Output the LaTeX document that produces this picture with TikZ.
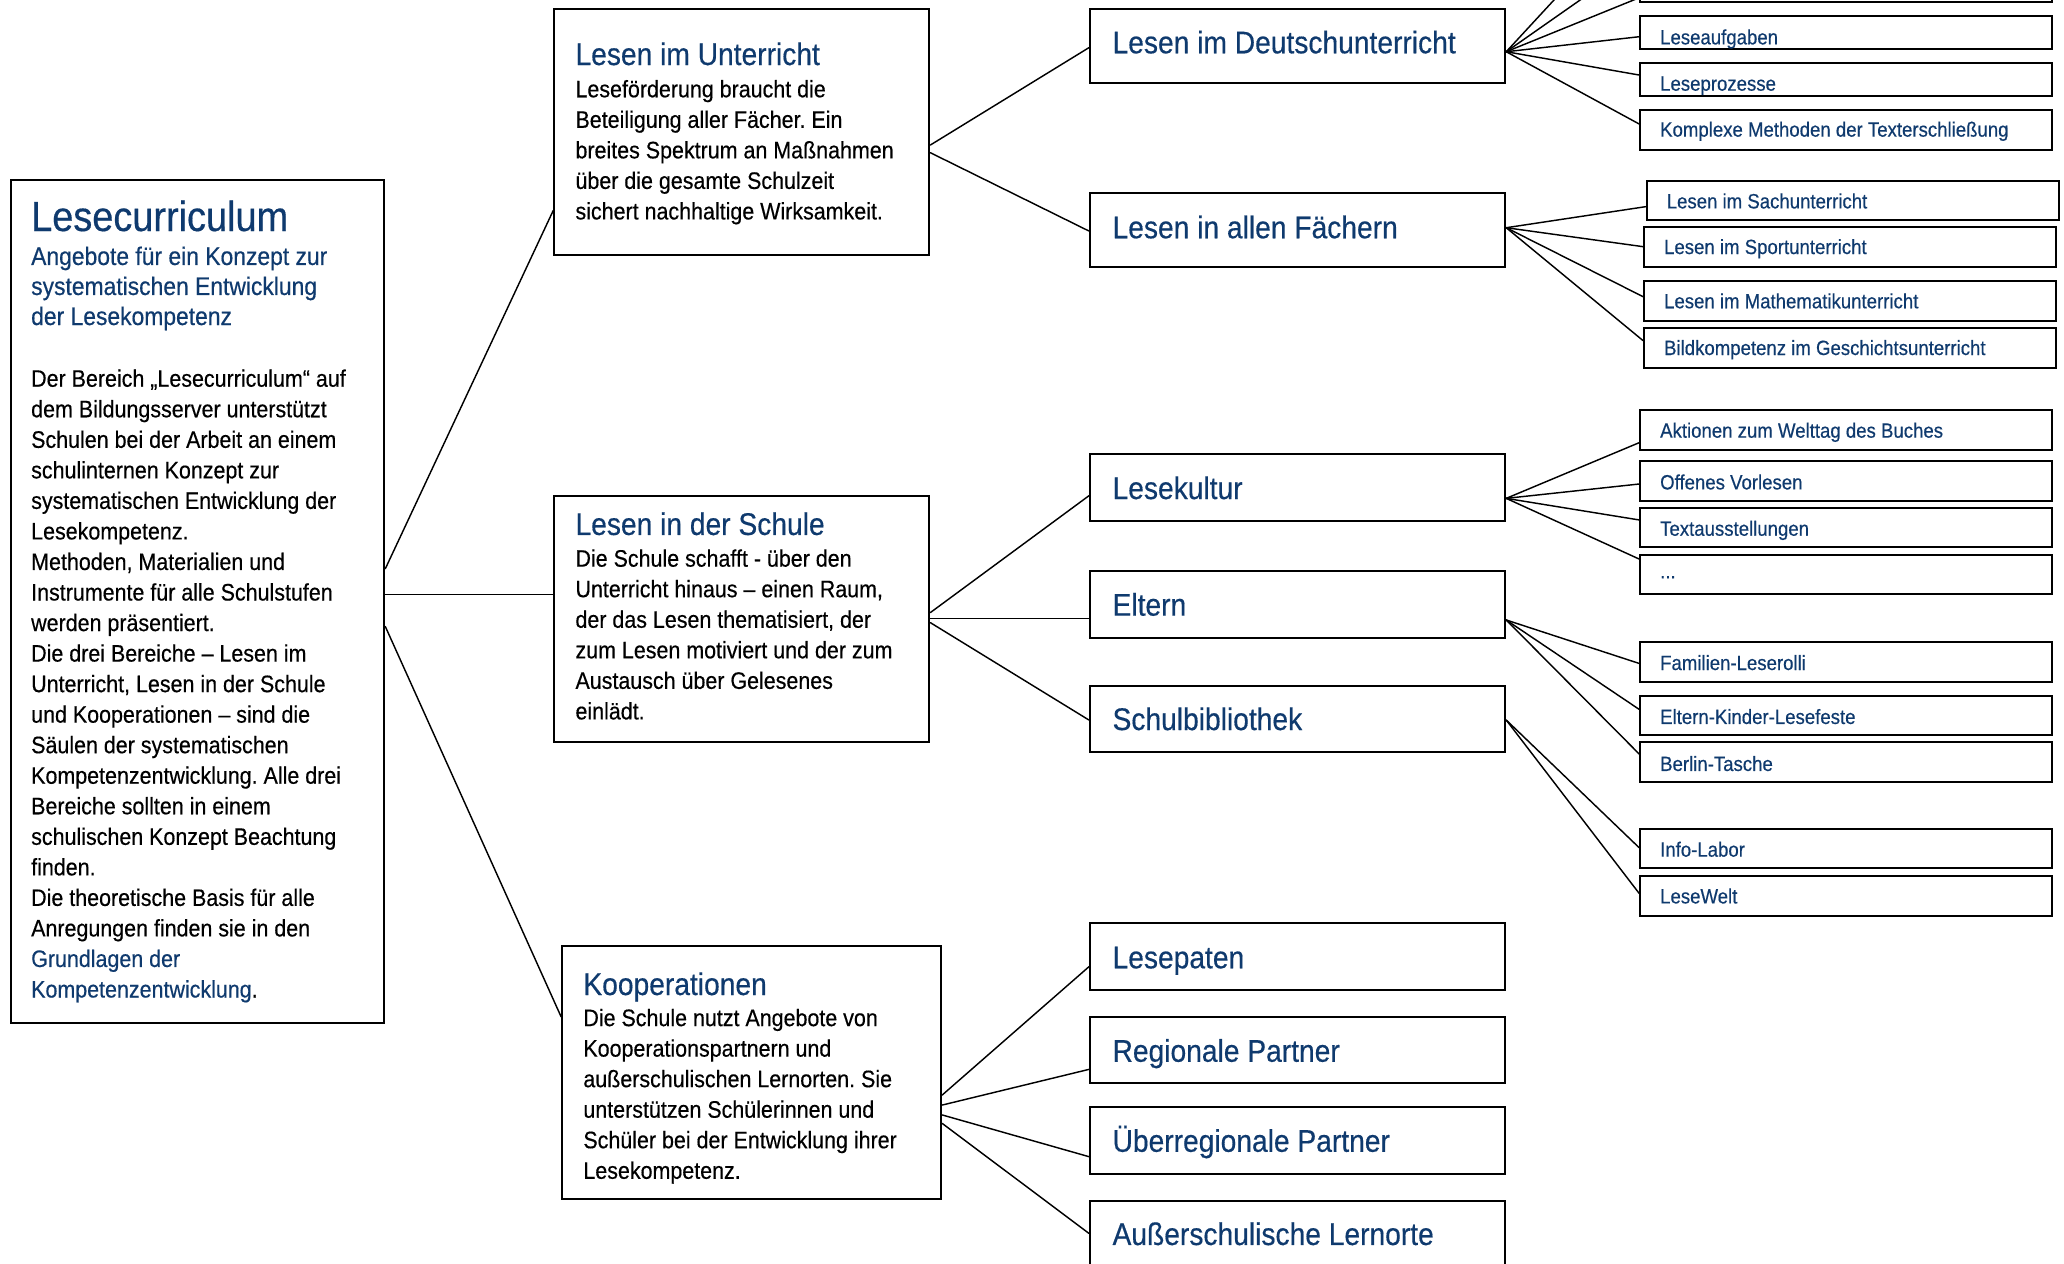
\documentclass[tikz,border=0pt]{standalone}
\usepackage{fontspec}
\setmainfont{Liberation Sans}[FakeStretch=0.9,FakeBold=0.4]
\frenchspacing
\definecolor{lblue}{HTML}{0F3A6E}
\tikzset{
  bxs/.style={draw=black, line width=1.5pt, inner sep=0pt},
  con/.style={line width=1.1pt, line cap=round},
  txs/.style={anchor=base west, inner sep=0pt},
  bigt/.style={txs, text=lblue, font=\fontsize{23.8}{28}\selectfont},
  smt/.style={txs, text=lblue, font=\fontsize{15.7}{18}\selectfont},
}
\newcommand\mkbox[5]{\node[bxs,minimum width={(#4-#2)*1pt},minimum height={(#5-#3)*1pt}] (#1) at ({(#2+#4)/2},{(#3+#5)/2}) {};}
\newcommand\bodytext[2]{\parbox[t]{#1}{\fontsize{18.1}{23.2}\selectfont\raggedright #2}}
\begin{document}
\begin{tikzpicture}[x=1pt,y=-1pt]
\useasboundingbox (0,0) rectangle (1568,960);
\fill[white] (0,0) rectangle (1568,960);
\clip (0,0) rectangle (1568,960);

% ---------- boxes ----------
\mkbox{L0}{8}{137}{292}{777}
\mkbox{U}{421}{7}{706}{193.5}
\mkbox{S}{421}{376.6}{706}{563.5}
\mkbox{K}{427}{718.7}{715}{911}
\mkbox{D1}{828}{6.8}{1143.5}{62.8}
\mkbox{D2}{828}{146.4}{1143.5}{202.6}
\mkbox{D3}{828}{344.9}{1143.5}{395.8}
\mkbox{D4}{828}{433.8}{1143.5}{485}
\mkbox{D5}{828}{520.9}{1143.5}{571.6}
\mkbox{D6}{828}{701}{1143.5}{752.1}
\mkbox{D7}{828}{772.4}{1143.5}{823}
\mkbox{D8}{828}{840.7}{1143.5}{892.2}
\mkbox{D9}{828}{912.4}{1143.5}{990}
\mkbox{S0}{1246}{-40}{1559}{1.3}
\mkbox{S1}{1246}{12.2}{1559}{37}
\mkbox{S2}{1246}{47.6}{1559}{72.7}
\mkbox{S3}{1246}{83.6}{1559}{114}
\mkbox{S4}{1251}{137.3}{1564}{167.1}
\mkbox{S5}{1249}{172.7}{1562}{202.6}
\mkbox{S6}{1249}{213.5}{1562}{243.6}
\mkbox{S7}{1249}{249.4}{1562}{279.3}
\mkbox{S8}{1246}{311.5}{1559}{341.9}
\mkbox{S9}{1246}{350.2}{1559}{380.4}
\mkbox{S10}{1246}{386.2}{1559}{415.8}
\mkbox{S11}{1246}{421.6}{1559}{451.5}
\mkbox{S12}{1246}{487.5}{1559}{517.9}
\mkbox{S13}{1246}{528.5}{1559}{558.4}
\mkbox{S14}{1246}{564}{1559}{594.3}
\mkbox{S15}{1246}{629.8}{1559}{659.7}
\mkbox{S16}{1246}{665.5}{1559}{695.6}

% ---------- texts: left box ----------
\node[txs, text=lblue, font=\fontsize{32}{36}\selectfont] (tL0) at (23.5,175.5) {Lesecurriculum};
\node[txs, text=lblue] (sL0) at (23.5,201.3) {\parbox[t]{265pt}{\fontsize{19.3}{22.8}\selectfont\raggedright Angebote für ein Konzept zur\\systematischen Entwicklung\\der Lesekompetenz}};
\node[txs] (bL0) at (23.5,293.8) {\bodytext{265pt}{Der Bereich „Lesecurriculum“ auf\\dem Bildungsserver unterstützt\\Schulen bei der Arbeit an einem\\schulinternen Konzept zur\\systematischen Entwicklung der\\Lesekompetenz.\\Methoden, Materialien und\\Instrumente für alle Schulstufen\\werden präsentiert.\\Die drei Bereiche – Lesen im\\Unterricht, Lesen in der Schule\\und Kooperationen – sind die\\Säulen der systematischen\\Kompetenzentwicklung. Alle drei\\Bereiche sollten in einem\\schulischen Konzept Beachtung\\finden.\\Die theoretische Basis für alle\\Anregungen finden sie in den\\{\color{lblue}Grundlagen der\\Kompetenzentwicklung}.}};

% ---------- texts: middle boxes ----------
\node[bigt] (tU) at (437,49.4) {Lesen im Unterricht};
\node[txs] (bU) at (437,73.9) {\bodytext{265pt}{Leseförderung braucht die\\Beteiligung aller Fächer. Ein\\breites Spektrum an Maßnahmen\\über die gesamte Schulzeit\\sichert nachhaltige Wirksamkeit.}};
\node[bigt] (tS) at (437,406.4) {Lesen in der Schule};
\node[txs] (bS) at (437,430.5) {\bodytext{265pt}{Die Schule schafft - über den\\Unterricht hinaus – einen Raum,\\der das Lesen thematisiert, der\\zum Lesen motiviert und der zum\\Austausch über Gelesenes\\einlädt.}};
\node[bigt] (tK) at (443,755.9) {Kooperationen};
\node[txs] (bK) at (443,779.5) {\bodytext{270pt}{Die Schule nutzt Angebote von\\Kooperationspartnern und\\außerschulischen Lernorten. Sie\\unterstützen Schülerinnen und\\Schüler bei der Entwicklung ihrer\\Lesekompetenz.}};

% ---------- texts: second column ----------
\node[bigt] (tD1) at (845,40.5) {Lesen im Deutschunterricht};
\node[bigt] (tD2) at (845,181) {Lesen in allen Fächern};
\node[bigt] (tD3) at (845,379.1) {Lesekultur};
\node[bigt] (tD4) at (845,467.7) {Eltern};
\node[bigt] (tD5) at (845,554.6) {Schulbibliothek};
\node[bigt] (tD6) at (845,735.6) {Lesepaten};
\node[bigt] (tD7) at (845,806.6) {Regionale Partner};
\node[bigt] (tD8) at (845,875) {Überregionale Partner};
\node[bigt] (tD9) at (845,945.8) {Außerschulische Lernorte};

% ---------- texts: third column ----------
\node[smt] (tS1) at (1261,33.7) {Leseaufgaben};
\node[smt] (tS2) at (1261,68.9) {Leseprozesse};
\node[smt] (tS3) at (1261,103.8) {Komplexe Methoden der Texterschließung};
\node[smt] (tS4) at (1266,158.3) {Lesen im Sachunterricht};
\node[smt] (tS5) at (1264,193) {Lesen im Sportunterricht};
\node[smt] (tS6) at (1264,234.2) {Lesen im Mathematikunterricht};
\node[smt] (tS7) at (1264,269.7) {Bildkompetenz im Geschichtsunterricht};
\node[smt] (tS8) at (1261,332.5) {Aktionen zum Welttag des Buches};
\node[smt] (tS9) at (1261,371.8) {Offenes Vorlesen};
\node[smt] (tS10) at (1261,407) {Textausstellungen};
\node[smt] (tS11) at (1261,439.4) {...};
\node[smt] (tS12) at (1261,509) {Familien-Leserolli};
\node[smt] (tS13) at (1261,550) {Eltern-Kinder-Lesefeste};
\node[smt] (tS14) at (1261,585.7) {Berlin-Tasche};
\node[smt] (tS15) at (1261,650.8) {Info-Labor};
\node[smt] (tS16) at (1261,686.3) {LeseWelt};

% ---------- connectors ----------
\coordinate (upA) at (1199,-20);
\coordinate (upB) at (1229,-20);
\draw[con] (L0.east |- 0,432) -- (U.west |- 0,160);
\draw[con] (L0.east |- 0,451.5) -- (S.west |- 0,451.5);
\draw[con] (L0.east |- 0,476) -- (K.west |- 0,772.4);

\draw[con] (U.east |- 0,110.2) -- (D1.west |- 0,36.2);
\draw[con] (U.east |- 0,116) -- (D2.west |- 0,175.5);

\draw[con] (S.east |- 0,465.4) -- (D3.west |- 0,376.6);
\draw[con] (S.east |- 0,469.8) -- (D4.west |- 0,469.8);
\draw[con] (S.east |- 0,473) -- (D5.west |- 0,547);

\draw[con] (K.east |- 0,831.9) -- (D6.west |- 0,734.4);
\draw[con] (K.east |- 0,839.5) -- (D7.west |- 0,812.4);
\draw[con] (K.east |- 0,847) -- (D8.west |- 0,878.7);
\draw[con] (K.east |- 0,853.4) -- (D9.west |- 0,937);

\draw[con] (D1.east |- 0,39.3) -- (upA);
\draw[con] (D1.east |- 0,39.3) -- (upB);
\draw[con] (D1.east |- 0,39.3) -- (S0.west |- 0,-1.7);
\draw[con] (D1.east |- 0,39.3) -- (S1.west |- 0,27.9);
\draw[con] (D1.east |- 0,39.3) -- (S2.west |- 0,57);
\draw[con] (D1.east |- 0,39.3) -- (S3.west |- 0,94.2);

\draw[con] (D2.east |- 0,173) -- (S4.west |- 0,157);
\draw[con] (D2.east |- 0,173) -- (S5.west |- 0,187.4);
\draw[con] (D2.east |- 0,173) -- (S6.west |- 0,225.4);
\draw[con] (D2.east |- 0,173) -- (S7.west |- 0,258.8);

\draw[con] (D3.east |- 0,378.6) -- (S8.west |- 0,336.3);
\draw[con] (D3.east |- 0,378.6) -- (S9.west |- 0,367.7);
\draw[con] (D3.east |- 0,378.6) -- (S10.west |- 0,395);
\draw[con] (D3.east |- 0,378.6) -- (S11.west |- 0,424.7);

\draw[con] (D4.east |- 0,471) -- (S12.west |- 0,504);
\draw[con] (D4.east |- 0,471) -- (S13.west |- 0,538.9);
\draw[con] (D4.east |- 0,471) -- (S14.west |- 0,572.8);

\draw[con] (D5.east |- 0,547) -- (S15.west |- 0,644);
\draw[con] (D5.east |- 0,547) -- (S16.west |- 0,678.7);
\end{tikzpicture}
\end{document}
